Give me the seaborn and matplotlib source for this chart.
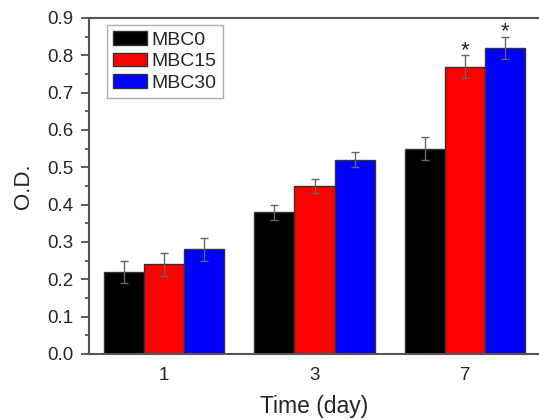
import matplotlib
matplotlib.use("Agg")
import matplotlib.pyplot as plt
import seaborn as sns
import pandas as pd
import numpy as np
from matplotlib.ticker import MultipleLocator

days = ["1", "3", "7"]
groups = ["MBC0", "MBC15", "MBC30"]
mbc0 = [0.22, 0.38, 0.55]
mbc15 = [0.24, 0.45, 0.77]
mbc30 = [0.28, 0.52, 0.82]
err0 = [0.03, 0.02, 0.03]
err15 = [0.03, 0.02, 0.03]
err30 = [0.03, 0.02, 0.03]
stars = {("7", "MBC15"): "*", ("7", "MBC30"): "*"}

rows = []
for g, vals, errs in zip(groups, [mbc0, mbc15, mbc30], [err0, err15, err30]):
    for d, v, e in zip(days, vals, errs):
        rows.append({"day": d, "group": g, "od": v, "err": e})
df = pd.DataFrame(rows)

sns.set_style("ticks")
plt.rcParams['font.family'] = ['Liberation Sans', 'DejaVu Sans']

fig = plt.figure(figsize=(5.39, 4.20), dpi=100)
ax = fig.add_axes([89/539, 1 - 354/420, 1 - 89/539 + 0.002, (354 - 18)/420])

palette = {"MBC0": "#000000", "MBC15": "#ff0000", "MBC30": "#0000ff"}
sns.barplot(data=df, x="day", y="od", hue="group", order=days, hue_order=groups,
            palette=palette, errorbar=None, width=0.8, saturation=1,
            edgecolor="#333333", linewidth=1.0, ax=ax)

# error bars and stars from bar patches
for cont, g in zip(ax.containers, groups):
    for bar, d in zip(cont, days):
        row = df[(df.group == g) & (df.day == d)].iloc[0]
        xc = bar.get_x() + bar.get_width() / 2
        ax.errorbar(xc, row.od, yerr=row.err, fmt="none", ecolor="#666666",
                    elinewidth=1, capsize=2.7, capthick=1, zorder=5)
        if (d, g) in stars:
            ax.text(xc, row.od + row.err - 0.001, stars[(d, g)], ha="center",
                    va="baseline", fontsize=16, color="#222222")

ax.set_ylim(0, 0.9)
ax.set_xlim(-0.5, 2.5)
ax.yaxis.set_minor_locator(MultipleLocator(0.05))
ax.set_yticks(np.arange(0, 0.91, 0.1))
ax.set_yticklabels([f"{v:.1f}" for v in np.arange(0, 0.91, 0.1)])
ax.tick_params(axis="y", which="major", length=6, width=1.2, color="#444444",
               labelsize=13.5, pad=5)
ax.tick_params(axis="y", which="minor", length=3, width=1.2, color="#444444")
ax.tick_params(axis="x", length=0, labelsize=13.5, pad=9)

for s in ["left", "bottom", "top"]:
    ax.spines[s].set_visible(True)
    ax.spines[s].set_color("#555555")
    ax.spines[s].set_linewidth(1.5)
ax.spines["right"].set_visible(False)

ax.set_xlabel("Time (day)", fontsize=16.5, labelpad=8)
ax.set_ylabel("O.D.", fontsize=16, labelpad=10)

leg = ax.legend(loc="upper left", bbox_to_anchor=(0.04, 0.978), frameon=True,
                fancybox=False, fontsize=14, handlelength=1.75, handleheight=0.7,
                handletextpad=0.25, borderpad=0.3, labelspacing=0.2,
                borderaxespad=0)
leg.get_frame().set_edgecolor("#999999")
leg.get_frame().set_linewidth(1)
for h in leg.legend_handles:
    h.set_edgecolor("#333333")

fig.savefig("out.png", dpi=100)
